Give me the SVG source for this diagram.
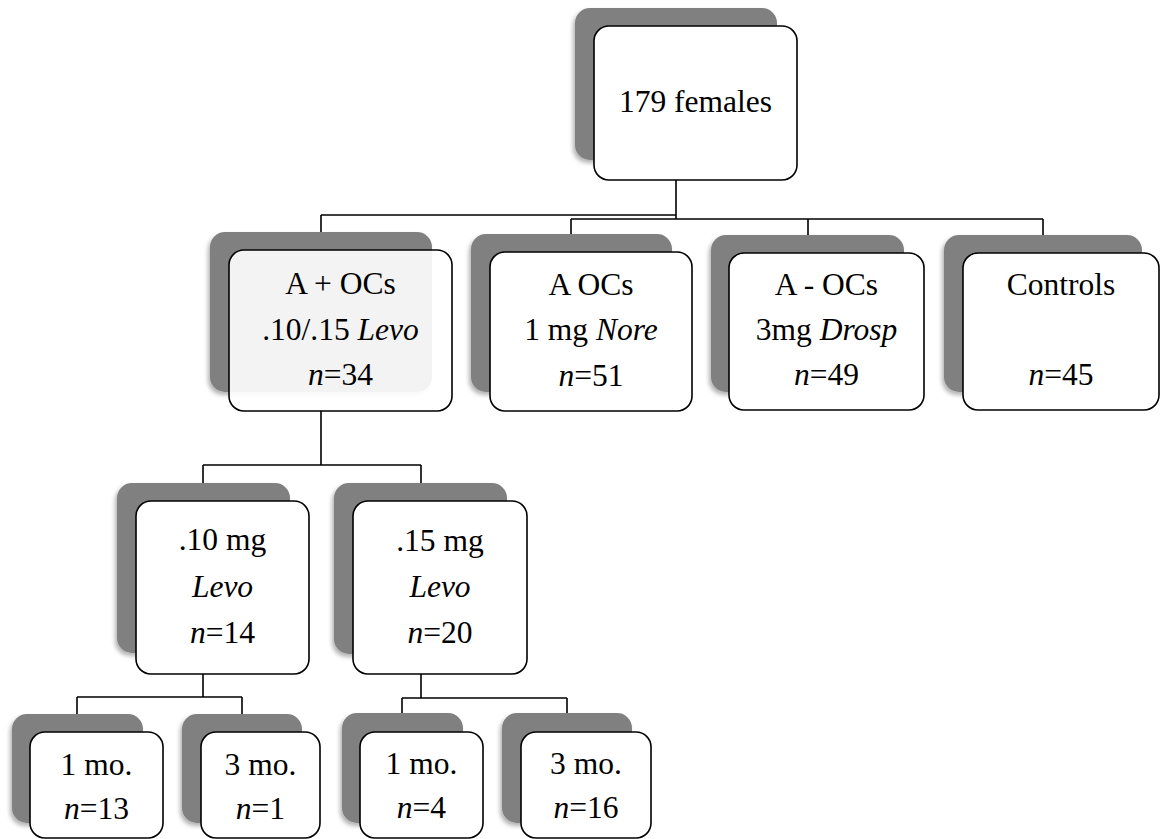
<svg xmlns="http://www.w3.org/2000/svg" width="1161" height="839" viewBox="0 0 1161 839" font-family="'Liberation Serif', 'Times New Roman', Times, 'Nimbus Roman', 'Noto Serif', FreeSerif, 'DejaVu Serif', serif">
<defs>
<filter id="ds" x="-10%" y="-10%" width="120%" height="125%">
<feDropShadow dx="-2" dy="3" stdDeviation="2" flood-color="#000" flood-opacity="0.3"/>
</filter>
</defs>
<style>
.sh{fill:#808080;filter:url(#ds)}
.fr{fill:#fff;stroke:#000;stroke-width:1.6}
.frt{fill:#fff;fill-opacity:0.9;stroke:#000;stroke-width:1.6}
.t{font-size:31.5px;fill:#000;text-anchor:middle}
.i{font-style:italic}
.c{fill:none;stroke:#000;stroke-width:1.6}
</style>
<g id="connectors">
<path class="c" d="M676 180V219M321 215H676M321 215V233M571 219H1043M571 219V234M808 219V235M1043 219V235"/>
<path class="c" d="M321 411V465M203 465H421M203 465V483M421 465V483"/>
<path class="c" d="M203 674V697M77 697H242M77 697V714M242 697V714"/>
<path class="c" d="M421 674V698M402 698H567M402 698V713M567 698V713"/>
</g>
<g id="n-top">
<rect class="sh" x="575" y="8" width="202" height="152" rx="15"/>
<rect class="fr" x="594" y="26" width="203" height="154" rx="15"/>
<text class="t" x="695.5" y="112">179 females</text>
</g>
<g id="n-aplus">
<rect class="sh" x="210" y="232" width="222" height="160" rx="15"/>
<rect class="frt" x="229" y="250" width="223" height="161" rx="15"/>
<text class="t" x="340.5" y="294">A + OCs</text>
<text class="t" x="340.5" y="340">.10/.15 <tspan class="i">Levo</tspan></text>
<text class="t" x="340.5" y="385"><tspan class="i">n</tspan>=34</text>
</g>
<g id="n-a">
<rect class="sh" x="471" y="234" width="201" height="158" rx="15"/>
<rect class="fr" x="490" y="252" width="202" height="159" rx="15"/>
<text class="t" x="591" y="295">A OCs</text>
<text class="t" x="591" y="340">1 mg <tspan class="i">Nore</tspan></text>
<text class="t" x="591" y="386"><tspan class="i">n</tspan>=51</text>
</g>
<g id="n-aminus">
<rect class="sh" x="711" y="235" width="193" height="157" rx="15"/>
<rect class="fr" x="729" y="253" width="195" height="157" rx="15"/>
<text class="t" x="826.5" y="295">A - OCs</text>
<text class="t" x="826.5" y="340">3mg <tspan class="i">Drosp</tspan></text>
<text class="t" x="826.5" y="385"><tspan class="i">n</tspan>=49</text>
</g>
<g id="n-controls">
<rect class="sh" x="944" y="235" width="198" height="157" rx="15"/>
<rect class="fr" x="963" y="253" width="196" height="157" rx="15"/>
<text class="t" x="1061" y="295">Controls</text>
<text class="t" x="1061" y="385"><tspan class="i">n</tspan>=45</text>
</g>
<g id="n-10mg">
<rect class="sh" x="117" y="483" width="173" height="170" rx="15"/>
<rect class="fr" x="136" y="501" width="173" height="173" rx="15"/>
<text class="t" x="222.5" y="550">.10 mg</text>
<text class="t i" x="222.5" y="597">Levo</text>
<text class="t" x="222.5" y="643"><tspan class="i">n</tspan>=14</text>
</g>
<g id="n-15mg">
<rect class="sh" x="334" y="483" width="173" height="171" rx="15"/>
<rect class="fr" x="353" y="501" width="174" height="173" rx="15"/>
<text class="t" x="440" y="551">.15 mg</text>
<text class="t i" x="440" y="597">Levo</text>
<text class="t" x="440" y="643"><tspan class="i">n</tspan>=20</text>
</g>
<g id="n-10-1mo">
<rect class="sh" x="12" y="714" width="131" height="109" rx="15"/>
<rect class="fr" x="30" y="732" width="133" height="106" rx="15"/>
<text class="t" x="96.5" y="775">1 mo.</text>
<text class="t" x="96.5" y="819"><tspan class="i">n</tspan>=13</text>
</g>
<g id="n-10-3mo">
<rect class="sh" x="182" y="714" width="120" height="109" rx="15"/>
<rect class="fr" x="201" y="732" width="119" height="106" rx="15"/>
<text class="t" x="260.5" y="775">3 mo.</text>
<text class="t" x="260.5" y="819"><tspan class="i">n</tspan>=1</text>
</g>
<g id="n-15-1mo">
<rect class="sh" x="342" y="713" width="121" height="110" rx="15"/>
<rect class="fr" x="360" y="732" width="123" height="106" rx="15"/>
<text class="t" x="421.5" y="774">1 mo.</text>
<text class="t" x="421.5" y="818"><tspan class="i">n</tspan>=4</text>
</g>
<g id="n-15-3mo">
<rect class="sh" x="502" y="713" width="130" height="110" rx="15"/>
<rect class="fr" x="521" y="732" width="130" height="106" rx="15"/>
<text class="t" x="586" y="774">3 mo.</text>
<text class="t" x="586" y="818"><tspan class="i">n</tspan>=16</text>
</g>
</svg>
